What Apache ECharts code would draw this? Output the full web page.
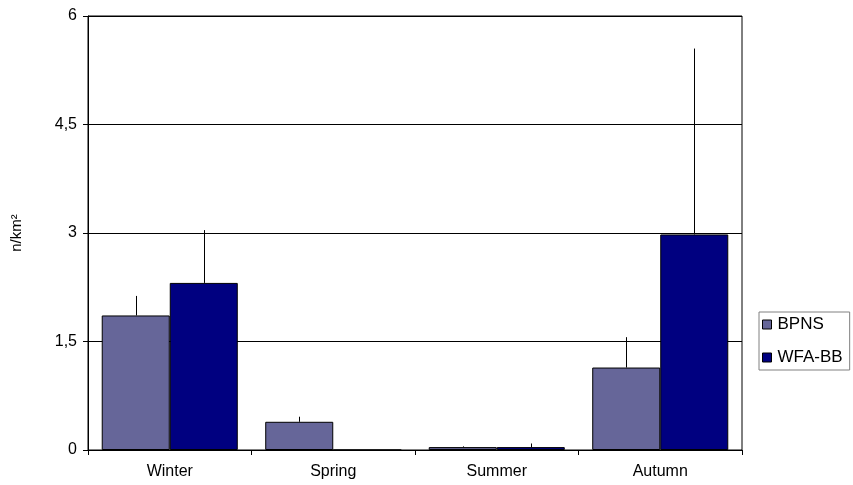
<!DOCTYPE html>
<html>
<head>
<meta charset="utf-8">
<script src="https://cdn.jsdelivr.net/npm/echarts@6/dist/echarts.min.js"></script>
<style>
html,body{margin:0;padding:0;background:#fff;}
#chart{width:853px;height:485px;}
</style>
</head>
<body>
<div id="chart"></div>
<script>
var categories = ['Winter', 'Spring', 'Summer', 'Autumn'];
var seriesNames = ['BPNS', 'WFA-BB'];
var bpnsValues = [1.86, 0.39, 0.04, 1.14];
var bpnsErrors = [0.27, 0.07, 0.01, 0.42];
var wfaValues = [2.31, 0, 0.04, 2.98];
var wfaErrors = [0.73, 0, 0.05, 2.57];
var yTicks = [0, 1.5, 3, 4.5, 6];

var FONT = '"Liberation Sans", Arial, sans-serif';
var CAT_GAP = 0.168;

function errData(values, errors) {
  return values.map(function (v, i) { return [i, v, v + errors[i]]; });
}

function errRender(sign) {
  return function (params, api) {
    var idx = api.value(0);
    var band = api.size([1, 0])[0];
    var bw = band * (1 - CAT_GAP) / 2;
    var base = api.coord([idx, api.value(1)]);
    var top = api.coord([idx, api.value(2)]);
    var x = Math.round(base[0] + sign * bw / 2) + 0.5;
    if (api.value(2) - api.value(1) <= 0) return null;
    return {
      type: 'line',
      shape: { x1: x, y1: base[1], x2: x, y2: top[1] },
      style: { stroke: '#000', lineWidth: 1 }
    };
  };
}

var chart = echarts.init(document.getElementById('chart'), null, { renderer: 'canvas' });
chart.setOption({
  animation: false,
  backgroundColor: '#ffffff',
  textStyle: { fontFamily: FONT },
  grid: {
    left: 88, top: 16, right: 111, bottom: 35,
    show: true, borderColor: '#000', borderWidth: 1, backgroundColor: '#fff'
  },
  legend: {
    orient: 'vertical',
    left: 759, top: 312,
    padding: [4, 7, 4, 3],
    itemGap: 16,
    itemWidth: 9, itemHeight: 9,
    icon: 'rect',
    borderColor: '#808080', borderWidth: 1,
    backgroundColor: '#fff',
    textStyle: { fontFamily: FONT, fontSize: 17, color: '#000', padding: [0, 0, 0, 1] },
    data: seriesNames.map(function (n) { return { name: n, itemStyle: { borderColor: '#000', borderWidth: 1 } }; })
  },
  xAxis: {
    type: 'category',
    data: categories,
    axisLine: { lineStyle: { color: '#000', width: 1 } },
    axisTick: { show: true, length: 5, lineStyle: { color: '#000' } },
    axisLabel: { color: '#000', fontSize: 16, fontFamily: FONT, margin: 14 },
    splitLine: { show: false }
  },
  yAxis: {
    type: 'value',
    min: yTicks[0], max: yTicks[yTicks.length - 1], interval: yTicks[1] - yTicks[0],
    name: 'n/km²',
    nameLocation: 'middle',
    nameGap: 64,
    nameTextStyle: { color: '#000', fontSize: 15, fontFamily: FONT },
    axisLine: { show: true, lineStyle: { color: '#000', width: 1 } },
    axisTick: { show: true, length: 5, lineStyle: { color: '#000' } },
    axisLabel: {
      color: '#000', fontSize: 16, fontFamily: FONT, margin: 11,
      formatter: function (v) { return String(v).replace('.', ','); }
    },
    splitLine: { show: true, lineStyle: { color: '#000', width: 1 } }
  },
  series: [
    {
      name: seriesNames[0], type: 'bar', data: bpnsValues,
      barGap: '0%', barCategoryGap: (CAT_GAP * 100) + '%',
      itemStyle: { color: '#666699', borderColor: '#000', borderWidth: 1 }
    },
    {
      name: seriesNames[1], type: 'bar', data: wfaValues,
      barGap: '0%', barCategoryGap: (CAT_GAP * 100) + '%',
      itemStyle: { color: '#000080', borderColor: '#000', borderWidth: 1 }
    },
    {
      type: 'custom', name: 'errBPNS', renderItem: errRender(-1),
      data: errData(bpnsValues, bpnsErrors), encode: { x: 0, y: [1, 2] }, z: 3
    },
    {
      type: 'custom', name: 'errWFA', renderItem: errRender(1),
      data: errData(wfaValues, wfaErrors), encode: { x: 0, y: [1, 2] }, z: 3
    }
  ]
});
</script>
</body>
</html>
